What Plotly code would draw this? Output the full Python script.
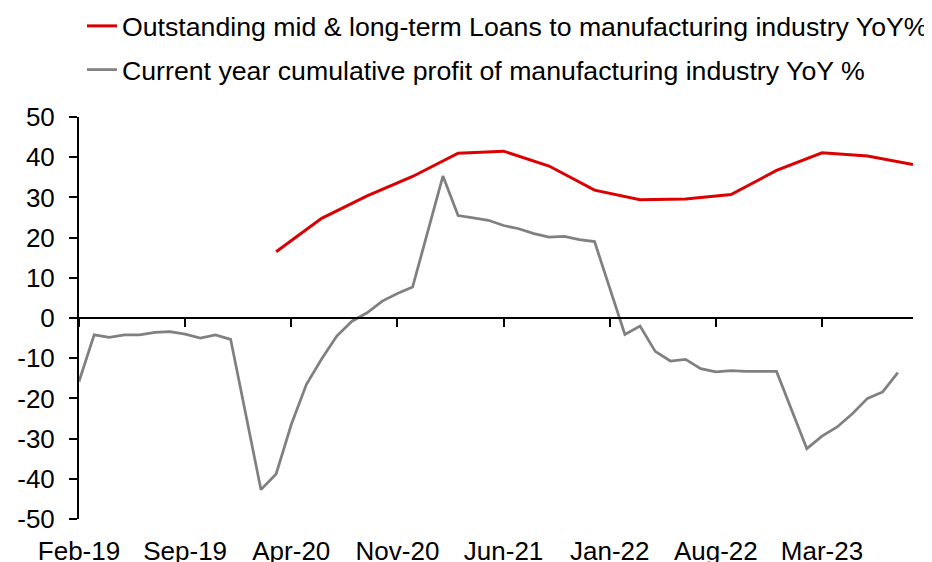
import plotly.graph_objects as go
import pandas as pd

# monthly category axis, Feb-19 .. Sep-23
months = list(pd.date_range("2019-02-01", "2023-09-01", freq="MS").strftime("%b-%y"))
tick_labels = ["Feb-19", "Sep-19", "Apr-20", "Nov-20", "Jun-21", "Jan-22", "Aug-22", "Mar-23"]
y_ticks = [-50, -40, -30, -20, -10, 0, 10, 20, 30, 40, 50]

# outstanding mid & long-term loans to manufacturing, YoY % (quarterly)
loan_months = ["Mar-20", "Jun-20", "Sep-20", "Dec-20", "Mar-21", "Jun-21", "Sep-21", "Dec-21",
               "Mar-22", "Jun-22", "Sep-22", "Dec-22", "Mar-23", "Jun-23", "Sep-23"]
loan_yoy = [16.5, 24.8, 30.4, 35.2, 41.0, 41.5, 37.8, 31.8,
            29.4, 29.6, 30.7, 36.7, 41.1, 40.3, 38.2]

# current-year cumulative profit of manufacturing, YoY % (no January prints)
profit_months = [m for m in months if not m.startswith("Jan") and m != "Sep-23"]
profit_yoy = [
    -15.8, -4.2, -4.8, -4.2, -4.2, -3.6, -3.4, -4.0, -5.0, -4.2, -5.3,      # 2019
    -42.7, -38.8, -26.5, -16.5, -10.2, -4.5, -0.8, 1.3, 4.2, 6.1, 7.7,      # 2020
    35.3, 25.5, 24.9, 24.3, 23.0, 22.2, 21.0, 20.1, 20.3, 19.5, 19.0,       # 2021
    -4.1, -2.0, -8.3, -10.7, -10.3, -12.6, -13.4, -13.1, -13.3, -13.3, -13.3,  # 2022
    -32.5, -29.4, -27.1, -23.8, -20.0, -18.4, -13.6,                          # 2023
]

FONT = "Arial, Liberation Sans, sans-serif"

fig = go.Figure()
fig.add_trace(go.Scatter(
    x=loan_months, y=loan_yoy, mode="lines",
    name="Outstanding mid & long-term Loans to manufacturing industry YoY%",
    line=dict(color="#DC0000", width=3), legendgroup="a",
))
fig.add_trace(go.Scatter(
    x=profit_months, y=profit_yoy, mode="lines",
    name="Current year cumulative profit of manufacturing industry YoY %",
    line=dict(color="#808080", width=2.75), legendgroup="b",
))
# invisible trace on the second x axis so the zero-line axis is drawn
fig.add_trace(go.Scatter(x=months, y=[None] * len(months), xaxis="x2",
                         showlegend=False, hoverinfo="skip"))

# page body has an 8px margin, so margins are shifted by that amount
fig.update_layout(
    width=932, height=562,
    margin=dict(l=71, r=27, t=109, b=51, autoexpand=False),
    paper_bgcolor="white", plot_bgcolor="rgba(0,0,0,0)",
    font=dict(family=FONT, size=26, color="black"),
    showlegend=True,
    legend=dict(
        xref="container", yref="paper", x=0.0794, y=1.286,
        xanchor="left", yanchor="top",
        font=dict(size=26.7), itemwidth=30,
        traceorder="grouped", tracegroupgap=6,
        bgcolor="rgba(0,0,0,0)",
    ),
    xaxis=dict(
        type="category", categoryorder="array", categoryarray=months,
        range=[0, len(months) - 1],
        tickvals=tick_labels, ticktext=tick_labels,
        showline=False, ticks="", showgrid=False, zeroline=False,
        ticklabelstandoff=14,
    ),
    xaxis2=dict(
        type="category", categoryorder="array", categoryarray=months,
        overlaying="x", anchor="free", position=0.5, side="bottom",
        range=[0, len(months) - 1],
        tickvals=tick_labels, showticklabels=False,
        showline=True, linecolor="black", linewidth=2,
        ticks="outside", ticklen=8, tickwidth=2, tickcolor="black",
        showgrid=False, zeroline=False,
    ),
    yaxis=dict(
        range=[-50, 50],
        tickvals=y_ticks, ticktext=[str(v) for v in y_ticks],
        showline=True, linecolor="black", linewidth=2,
        ticks="outside", ticklen=8, tickwidth=2, tickcolor="black",
        showgrid=False, zeroline=False,
        ticklabelstandoff=9,
    ),
)

fig.write_html("out.html")
